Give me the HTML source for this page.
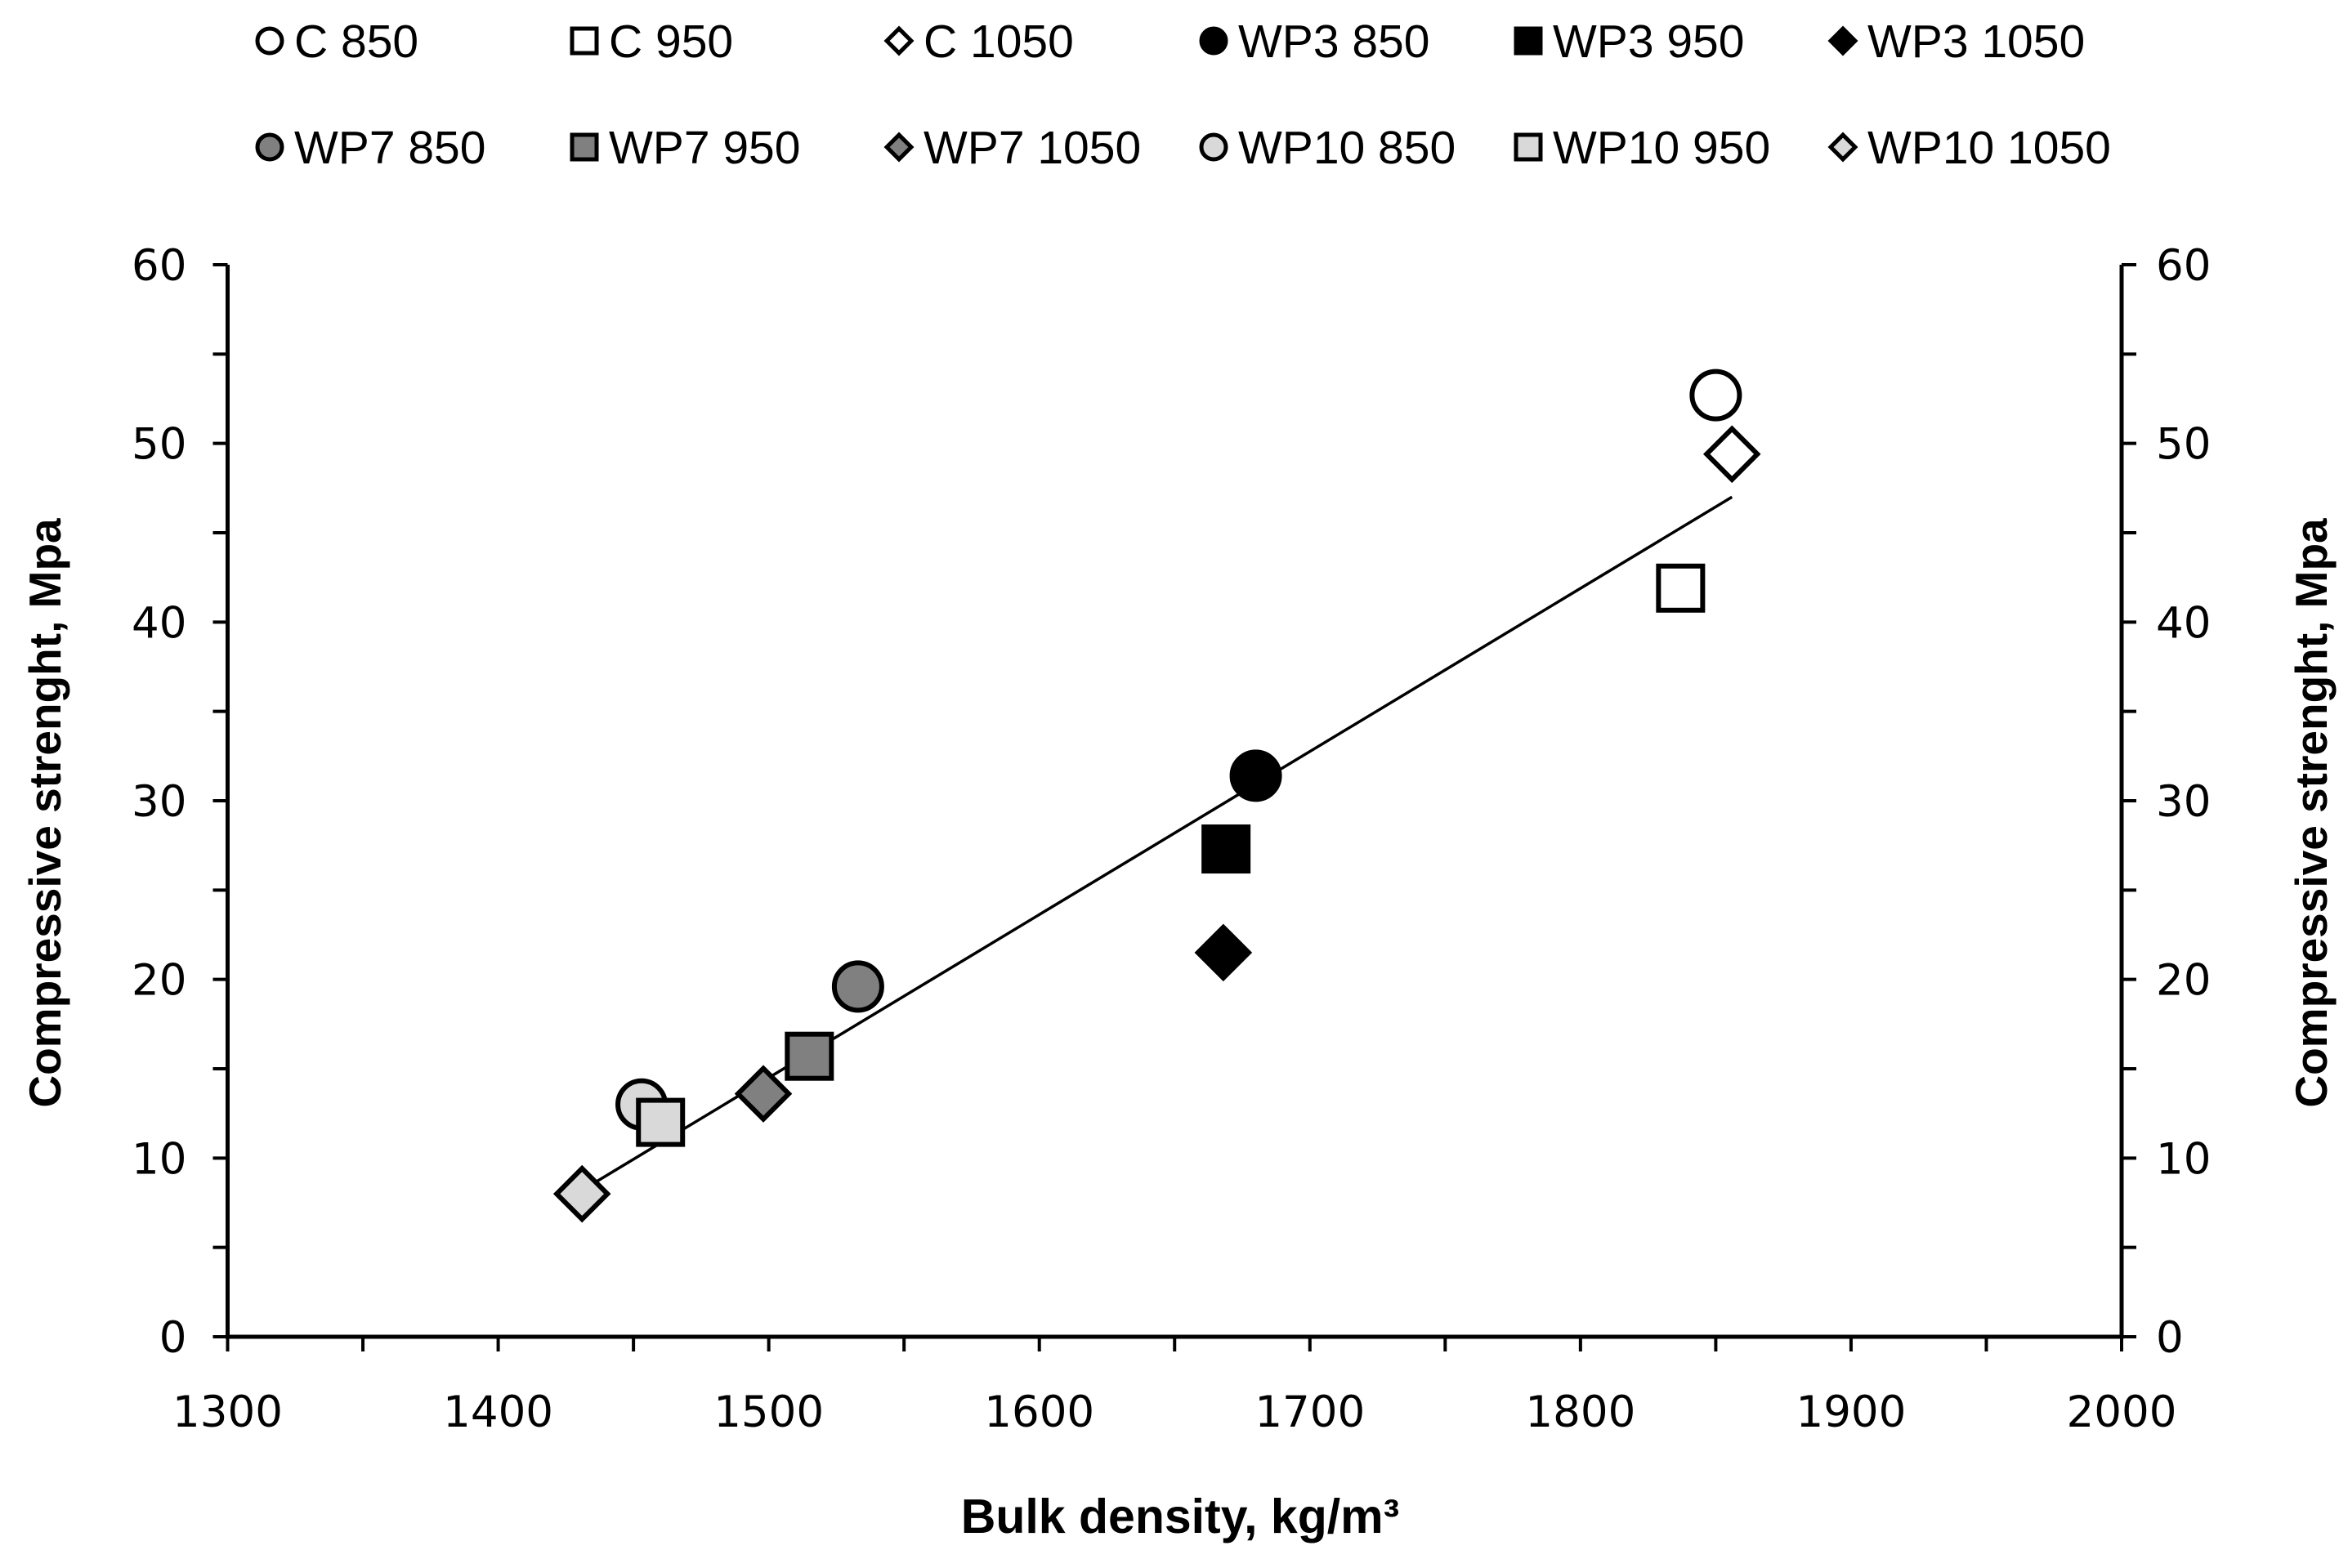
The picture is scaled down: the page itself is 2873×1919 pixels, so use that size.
<!DOCTYPE html>
<html><head><meta charset="utf-8"><style>
body{margin:0;background:#fff}
svg text{font-family:"DejaVu Sans","Liberation Sans",sans-serif}
.lg{font-family:"Liberation Sans",sans-serif;font-size:57px}
.tt{font-family:"Liberation Sans",sans-serif;font-weight:bold}
</style></head><body>
<svg id="chart" width="2873" height="1914" xmlns="http://www.w3.org/2000/svg">
<g id="axes"></g><g id="trend"></g><g id="marks"></g><g id="legend"></g>
<text class="tt" x="1444" y="1876" text-anchor="middle" font-size="59">Bulk density, kg/m³</text>
<text class="tt" transform="translate(74,995) rotate(-90)" text-anchor="middle" font-size="55">Compressive strenght, Mpa</text>
<text class="tt" transform="translate(2847,995) rotate(-90)" text-anchor="middle" font-size="55">Compressive strenght, Mpa</text>
</svg>
<script>
const seriesNames=["C 850","C 950","C 1050","WP3 850","WP3 950","WP3 1050","WP7 850","WP7 950","WP7 1050","WP10 850","WP10 950","WP10 1050"];
const densities=[1850,1837,1856,1680,1669,1668,1533,1515,1498,1453,1460,1431];
const strengths=[52.7,41.9,49.4,31.4,27.3,21.5,19.6,15.7,13.6,13.0,12.0,8.0];
const shapes=["circle","square","diamond","circle","square","diamond","circle","square","diamond","circle","square","diamond"];
const fills=["#fff","#fff","#fff","#000","#000","#000","#808080","#808080","#808080","#d9d9d9","#d9d9d9","#d9d9d9"];
const xTicks=[1300,1400,1500,1600,1700,1800,1900,2000];
const yTicks=[0,10,20,30,40,50,60];
const trendX=[1431,1856];
const trendY=[8.2,47.0];
const NS="http://www.w3.org/2000/svg";
const X0=278.5,X1=2596,Y0=1636,Y1=324;
const xs=v=>X0+(v-1300)/700*(X1-X0);
const ys=v=>Y0-v/60*(Y0-Y1);
function el(t,a,p){const e=document.createElementNS(NS,t);for(const k in a)e.setAttribute(k,a[k]);p.appendChild(e);return e;}
const ax=document.getElementById('axes');
let e;
e=el('path',{d:`M${X0},${Y1}V${Y0}H${X1}V${Y1}`,fill:'none',stroke:'#000','stroke-width':5},ax);


for(let v=1300;v<=2000;v+=50){el('line',{x1:xs(v),x2:xs(v),y1:Y0,y2:Y0+18,stroke:'#000','stroke-width':4},ax);}
for(let v=0;v<=60;v+=5){el('line',{x1:X0-18,x2:X0,y1:ys(v),y2:ys(v),stroke:'#000','stroke-width':4},ax);el('line',{x1:X1,x2:X1+18,y1:ys(v),y2:ys(v),stroke:'#000','stroke-width':4},ax);}
xTicks.forEach(v=>{e=el('text',{x:xs(v),y:Y0+110,'text-anchor':'middle','font-size':53},ax);e.textContent=v;

});
yTicks.forEach(v=>{e=el('text',{x:X0-50,y:ys(v)+19,'text-anchor':'end','font-size':53},ax);e.textContent=v;


e=el('text',{x:X1+42,y:ys(v)+19,'text-anchor':'start','font-size':53},ax);e.textContent=v;

});
e=el('line',{x1:xs(trendX[0]),y1:ys(trendY[0]),x2:xs(trendX[1]),y2:ys(trendY[1]),stroke:'#000','stroke-width':3.5},document.getElementById('trend'));


function marker(shape,cx,cy,s,fill,sw,p){
 if(shape==='circle')return el('circle',{cx,cy,r:s,fill,stroke:'#000','stroke-width':sw},p);
 if(shape==='square')return el('rect',{x:cx-s,y:cy-s,width:2*s,height:2*s,fill,stroke:'#000','stroke-width':sw},p);
 const d=s*1.15;return el('polygon',{points:`${cx},${cy-d} ${cx+d},${cy} ${cx},${cy+d} ${cx-d},${cy}`,fill,stroke:'#000','stroke-width':sw},p);
}
const mk=document.getElementById('marks');
densities.forEach((d,i)=>{const sz=shapes[i]==='circle'?29:27;
e=marker(shapes[i],xs(d),ys(strengths[i]),sz,fills[i],6,mk);

});
const lg=document.getElementById('legend');
seriesNames.forEach((n,i)=>{const col=i%6,row=Math.floor(i/6);const cx=330+col*385,cy=50+row*130;
e=marker(shapes[i],cx,cy,shapes[i]==='diamond'?13:15,fills[i],5,lg);


e=el('text',{x:cx+30,y:cy+20,class:'lg'},lg);e.textContent=n;

});
</script>
</body></html>
